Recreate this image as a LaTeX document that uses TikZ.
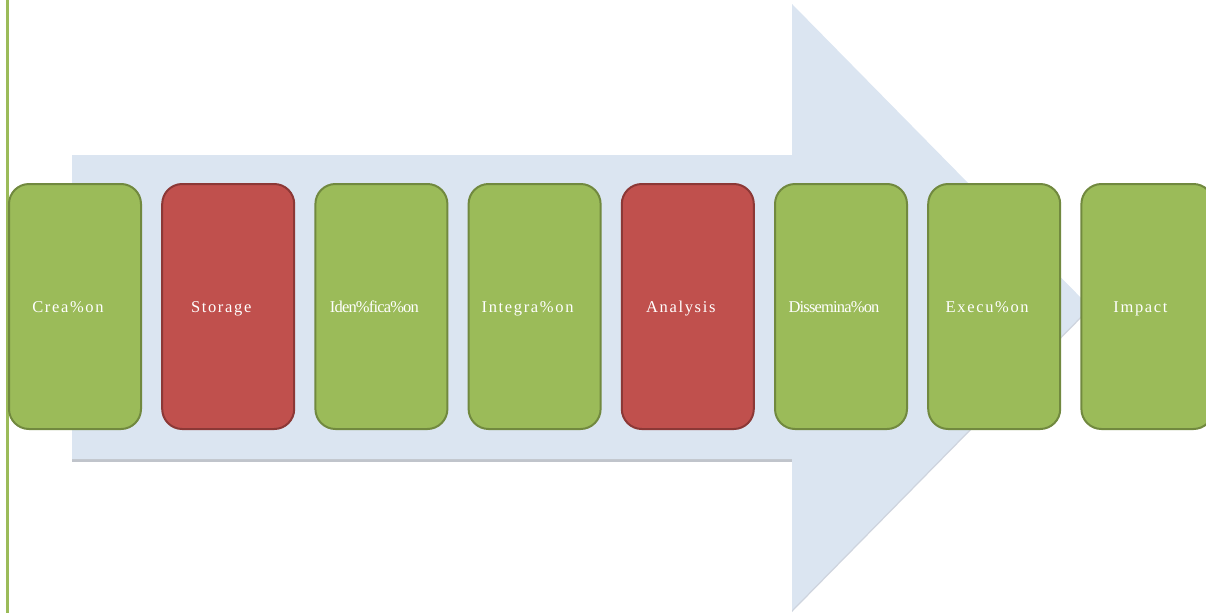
\documentclass[tikz,border=0pt]{standalone}
\usepackage{fontspec}
\setmainfont{Liberation Serif}
\newfontfamily\etiqueta[LetterSpace=10]{Liberation Serif}
\newfontfamily\etiquetaapretada[LetterSpace=-5]{Liberation Serif}
\usepackage{xcolor}
\usepackage{tikz}
\usetikzlibrary{positioning}
\definecolor{verde}{RGB}{155,187,89}
\definecolor{verdeosc}{RGB}{113,137,63}
\definecolor{rojo}{RGB}{192,80,77}
\definecolor{rojoosc}{RGB}{140,56,54}
\definecolor{celeste}{RGB}{219,229,241}
\definecolor{sombra}{RGB}{192,196,203}
\definecolor{sombraclara}{RGB}{206,212,222}

\tikzset{
  paso/.style={draw=verdeosc,fill=verde,line width=2pt,rounded corners=20pt,
    minimum width=132pt,minimum height=245pt,inner sep=0pt,text=white,
    text height=12pt,text depth=0pt,
    font=\etiqueta\fontsize{16.5}{18}\selectfont,
    execute at end node={\hspace*{14pt}}},
  pasorojo/.style={paso,draw=rojoosc,fill=rojo},
  apretado/.style={font=\etiquetaapretada\fontsize{16.5}{18}\selectfont}
}

\begin{document}
\begin{tikzpicture}[x=1pt,y=-1pt]
\useasboundingbox (0,0) rectangle (1206,613);
\clip (0,0) rectangle (1206,613);
% flecha de fondo con su sombra
\fill[sombraclara] (792,6) -- (1090,309) -- (792,612) -- cycle;
\fill[sombra] (72,155) rectangle (792,462);
\fill[celeste] (72,155) -- (792,155) -- (792,4) -- (1090,307) -- (792,610) -- (792,459) -- (72,459) -- cycle;
% barra vertical
\draw[verde,line width=3pt] (7.5,0) -- (7.5,613);
% etapas
\node[paso] (creacion) at (75,306.5) {Crea\%on};
\node[pasorojo,right=19.2pt of creacion] (almacen) {Storage};
\node[paso,apretado,right=19.2pt of almacen] (identificacion) {Iden\%fica\%on};
\node[paso,right=19.2pt of identificacion] (integracion) {Integra\%on};
\node[pasorojo,right=19.2pt of integracion] (analisis) {Analysis};
\node[paso,apretado,right=19.2pt of analisis] (difusion) {Dissemina\%on};
\node[paso,right=19.2pt of difusion] (ejecucion) {Execu\%on};
\node[paso,right=19.2pt of ejecucion] (impacto) {Impact};
\end{tikzpicture}
\end{document}
